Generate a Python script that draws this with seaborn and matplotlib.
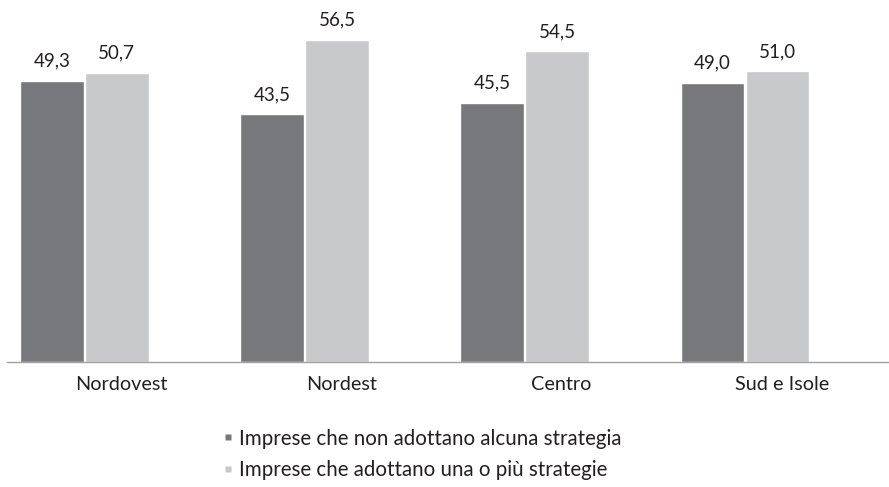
import matplotlib
matplotlib.use("Agg")
import matplotlib.pyplot as plt
import seaborn as sns
import pandas as pd
from matplotlib.lines import Line2D

# Data
aree = ["Nordovest", "Nordest", "Centro", "Sud e Isole"]
non_adottano = [49.3, 43.5, 45.5, 49.0]
adottano = [50.7, 56.5, 54.5, 51.0]
serie = ["Imprese che non adottano alcuna strategia",
         "Imprese che adottano una o più strategie"]
colori = ["#77787b", "#c8c9cb"]

df = pd.DataFrame({
    "Area": aree * 2,
    "Valore": non_adottano + adottano,
    "Serie": [serie[0]] * len(aree) + [serie[1]] * len(aree),
})

sns.set_style("white")
plt.rcParams["font.family"] = ["Lato", "DejaVu Sans"]
testo = "#231f20"

fig = plt.figure(figsize=(8.89, 4.87), dpi=100)
ax = fig.add_axes([7 / 889, 1 - 362 / 487, 881 / 889, 362 / 487])

sns.barplot(data=df, x="Area", y="Valore", hue="Serie", order=aree,
            hue_order=serie, palette=colori, width=0.59, gap=0.02,
            saturation=1, ax=ax, legend=False)

for cont in ax.containers:
    ax.bar_label(cont, labels=[f"{v:.1f}".replace(".", ",") for v in cont.datavalues],
                 padding=8, fontsize=13.5, color=testo)

# the groups sit left of the category centre (as in the original layout)
shift = 0.149
ax.set_ylim(0, 63.5)
ax.set_xlim(-0.5 + shift, len(aree) - 0.5 + shift)
ax.set_xticks([i + shift + 0.018 for i in range(len(aree))], aree)
ax.set_xlabel("")
ax.set_ylabel("")
ax.set_yticks([])
ax.tick_params(axis="x", length=0, labelsize=14.3, labelcolor=testo, pad=10)

# boundary ticks between categories
ax.set_xticks([i - 0.5 + shift for i in range(len(aree) + 1)], minor=True)
ax.tick_params(axis="x", which="minor", length=5, color="#a0a0a0", width=1)

for s in ["top", "right", "left"]:
    ax.spines[s].set_visible(False)
ax.spines["bottom"].set_color("#a0a0a0")
ax.spines["bottom"].set_linewidth(1)

handles = [Line2D([], [], marker="s", linestyle="none", markersize=5,
                  markerfacecolor=c, markeredgecolor="none") for c in colori]
fig.legend(handles, serie, loc="upper left", bbox_to_anchor=(0.252, 0.12),
           frameon=False, fontsize=14.8, handlelength=0.4,
           handletextpad=0.35, labelspacing=0.55, labelcolor=testo,
           borderaxespad=0, borderpad=0)

fig.savefig("out.png", dpi=100)
